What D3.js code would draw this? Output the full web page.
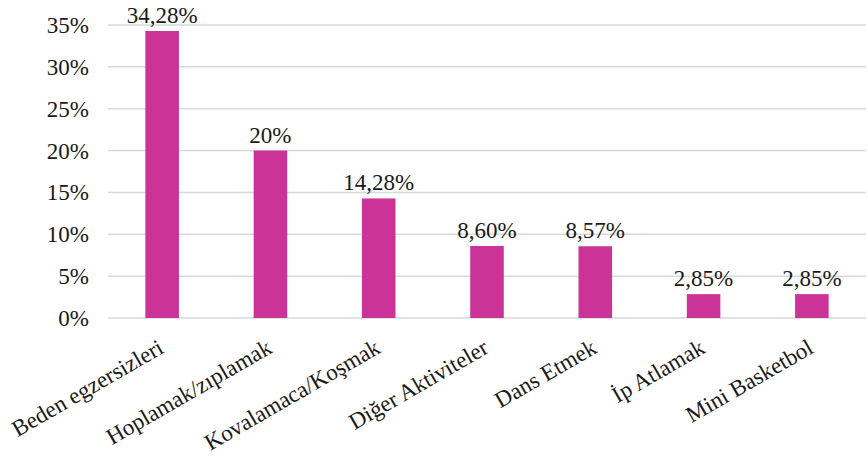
<!DOCTYPE html>
<html><head><meta charset="utf-8">
<script src="https://cdn.jsdelivr.net/npm/d3@7/dist/d3.min.js"></script>
<style>body{margin:0;background:#fff}svg{display:block}</style>
</head><body>
<svg id="c" width="868" height="461"></svg>
<script>
const categories = ["Beden egzersizleri","Hoplamak/zıplamak","Kovalamaca/Koşmak","Diğer Aktiviteler","Dans Etmek","İp Atlamak","Mini Basketbol"];
const values = [34.28, 20, 14.28, 8.60, 8.57, 2.85, 2.85];
const valueLabels = ["34,28%","20%","14,28%","8,60%","8,57%","2,85%","2,85%"];
const yTicks = [0,5,10,15,20,25,30,35];

// pick the first installed serif font
const candidates = ["Liberation Serif","Times New Roman","Tinos","DejaVu Serif","Noto Serif","FreeSerif","Nimbus Roman","Nimbus Roman No9 L"];
const ctx = document.createElement("canvas").getContext("2d");
const probe = "abcdefghijklmnopqrstuvwxyzABCDEFGHIJ0123456789%";
function w(f){ctx.font = "40px " + f; return ctx.measureText(probe).width;}
const baseM = w("monospace"), baseS = w("sans-serif");
let chosen = null;
for (const c of candidates) {
  if (w(`"${c}", monospace`) !== baseM && w(`"${c}", sans-serif`) !== baseS) { chosen = c; break; }
}
const font = (chosen ? `"${chosen}", ` : "") + "serif";

const svg = d3.select("#c");
const x = d3.scaleBand().domain(categories).range([108,866]).paddingInner(0.69).paddingOuter(0.345);
const y = d3.scaleLinear().domain([0,35]).range([318,25]);

svg.append("g").selectAll("line").data(yTicks).join("line")
  .attr("x1",108).attr("x2",866).attr("y1",d=>y(d)).attr("y2",d=>y(d))
  .attr("stroke","#d9d9d9").attr("stroke-width",1.5);

svg.append("g").selectAll("text").data(yTicks).join("text")
  .attr("x",89).attr("y",d=>y(d)+8).attr("text-anchor","end")
  .style("font-family",font).attr("font-size",23).attr("fill","#1a1a1a")
  .text(d=>d+"%");

svg.append("g").selectAll("rect").data(values).join("rect")
  .attr("x",(d,i)=>x(categories[i])).attr("width",x.bandwidth())
  .attr("y",d=>y(d)).attr("height",d=>y(0)-y(d))
  .attr("fill","#cc3399");

svg.append("g").selectAll("text").data(values).join("text")
  .attr("x",(d,i)=>x(categories[i])+x.bandwidth()/2).attr("y",d=>y(d)-8)
  .attr("text-anchor","middle").style("font-family",font).attr("font-size",23).attr("fill","#1a1a1a")
  .text((d,i)=>valueLabels[i]);

svg.append("g").selectAll("text").data(categories).join("text")
  .attr("transform",d=>`translate(${x(d)+x.bandwidth()/2+3},${352}) rotate(-30)`)
  .attr("text-anchor","end").style("font-family",font).attr("font-size",23).attr("fill","#1a1a1a")
  .text(d=>d);
</script>
</body></html>
